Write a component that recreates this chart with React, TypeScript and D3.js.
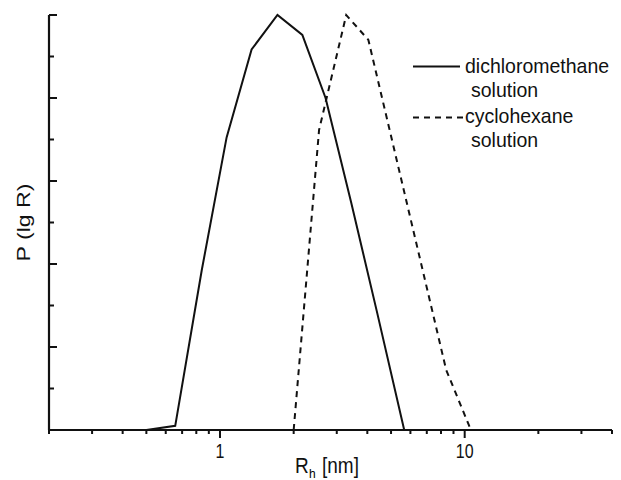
import React from "react";
import * as d3 from "d3";

// Data (normalized distribution P(lg R) vs R_h in nm)
const dcmR = [0.5, 0.656, 0.842, 1.064, 1.346, 1.717, 2.17, 2.7, 3.44, 4.37, 5.66];
const dcmP = [0, 0.01, 0.385, 0.705, 0.917, 1.0, 0.952, 0.8, 0.547, 0.287, 0];
const chxR = [2.0, 2.54, 3.28, 4.04, 8.4, 10.6];
const chxP = [0, 0.723, 1.0, 0.94, 0.145, 0];

const xMajorTicks = [1, 10];
const xMinorTicks = [0.2, 0.3, 0.4, 0.5, 0.6, 0.7, 0.8, 0.9, 2, 3, 4, 5, 6, 7, 8, 9, 20, 30, 40];
const xTickLabels = ["1", "10"];
const yMajorTicks = [0, 0.2, 0.4, 0.6, 0.8, 1.0];
const yMinorTicks = [0.1, 0.3, 0.5, 0.7, 0.9];
const legendLabels = [["dichloromethane", "solution"], ["cyclohexane", "solution"]];

const W = 621;
const H = 480;
const left = 49;
const right = 612;
const top = 15;
const bottom = 430;
const FONT = "'Liberation Sans', Arial, sans-serif";
const INK = "#111";

function T({ x, y, size, sy, anchor, children }: { x: number; y: number; size: number; sy: number; anchor?: string; children: React.ReactNode }) {
  return (
    <g transform={`translate(${x},${y}) scale(1,${sy})`}>
      <text x={0} y={0} fontFamily={FONT} fontSize={size} fill={INK} textAnchor={anchor || "start"}>
        {children}
      </text>
    </g>
  );
}

export default function App() {
  const x = d3.scaleLog().domain([0.2, 40]).range([left, right]);
  const y = d3.scaleLinear().domain([0, 1]).range([bottom, top]);
  const line = d3
    .line<[number, number]>()
    .x((d) => x(d[0]))
    .y((d) => y(d[1]));
  const dcm = line(dcmR.map((r, i) => [r, dcmP[i]] as [number, number])) || "";
  const chx = line(chxR.map((r, i) => [r, chxP[i]] as [number, number])) || "";

  return (
    <svg
      width={W}
      height={H}
      style={{ position: "absolute", left: 0, top: 0, background: "#fff" }}
    >
      <rect x={0} y={0} width={W} height={H} fill="#fff" />
      {/* curves */}
      <path d={dcm} fill="none" stroke={INK} strokeWidth={2} strokeLinejoin="miter" />
      <path d={chx} fill="none" stroke={INK} strokeWidth={2} strokeDasharray="6,5" />

      {/* axes */}
      <line x1={left} x2={left} y1={top} y2={bottom} stroke={INK} strokeWidth={2.2} />
      <line x1={left} x2={right} y1={bottom} y2={bottom} stroke={INK} strokeWidth={2.2} />
      {yMajorTicks.map((t) => (
        <line key={"ym" + t} x1={left} x2={left + 8} y1={y(t)} y2={y(t)} stroke={INK} strokeWidth={2} />
      ))}
      {yMinorTicks.map((t) => (
        <line key={"yn" + t} x1={left} x2={left + 5} y1={y(t)} y2={y(t)} stroke={INK} strokeWidth={2} />
      ))}
      {xMajorTicks.map((t) => (
        <line key={"xm" + t} x1={x(t)} x2={x(t)} y1={bottom} y2={bottom + 8} stroke={INK} strokeWidth={2} />
      ))}
      {xMinorTicks.map((t) => (
        <line key={"xn" + t} x1={x(t)} x2={x(t)} y1={bottom} y2={bottom + 4} stroke={INK} strokeWidth={2} />
      ))}
      {xMajorTicks.map((t, i) => (
        <T key={"xl" + t} x={x(t)} y={458} size={16} sy={1.22} anchor="middle">
          {xTickLabels[i]}
        </T>
      ))}

      {/* axis titles */}
      <T x={295} y={473} size={19} sy={1.2}>R</T>
      <text x={309} y={478} fontFamily={FONT} fontSize={12} fill="#000">h</text>
      <T x={322} y={473} size={19} sy={1.2}>[nm]</T>
      <g transform={`translate(30,${(top + bottom) / 2}) scale(1,1.25) rotate(-90)`}>
        <text x={0} y={0} textAnchor="middle" fontFamily={FONT} fontSize={18.5} fill={INK}>
          P (lg R)
        </text>
      </g>

      {/* legend */}
      <line x1={413} x2={460} y1={66.5} y2={66.5} stroke={INK} strokeWidth={2} />
      <line x1={413} x2={463} y1={117.5} y2={117.5} stroke={INK} strokeWidth={2} strokeDasharray="6,5" />
      {legendLabels.map((lab, i) => (
        <g key={"lg" + i}>
          <T x={465} y={73 + i * 50} size={19.5} sy={1.08}>
            {lab[0]}
          </T>
          <T x={471} y={97 + i * 50} size={19.5} sy={1.08}>
            {lab[1]}
          </T>
        </g>
      ))}
    </svg>
  );
}
